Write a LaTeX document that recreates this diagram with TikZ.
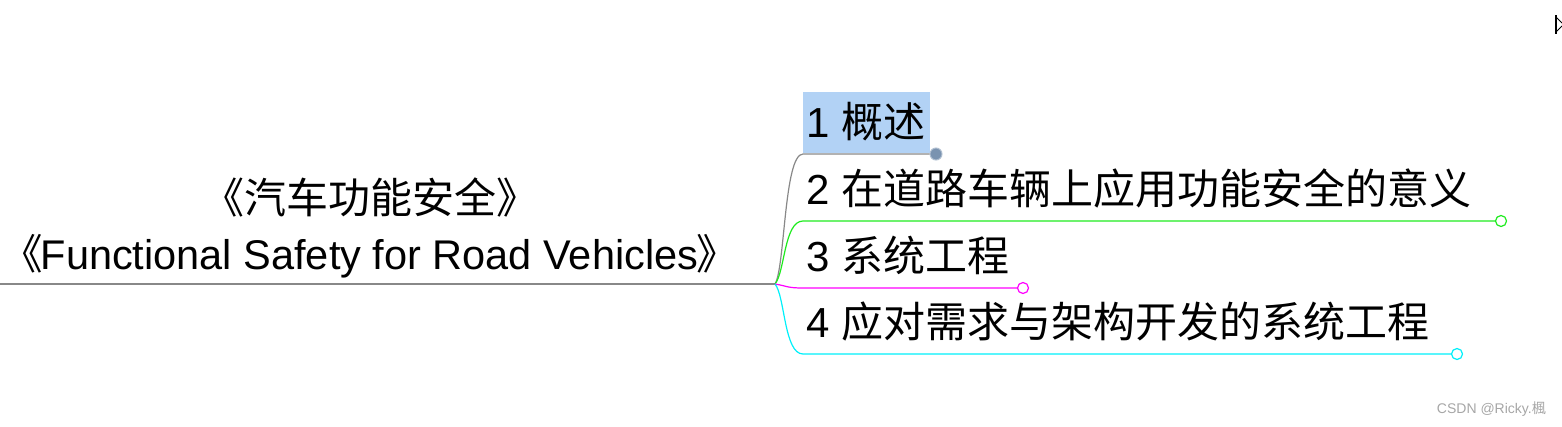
\documentclass[tikz,border=0pt]{standalone}
\usepackage{fontspec}
\setmainfont{Liberation Sans}
\newfontfamily\cjk{Noto Sans CJK SC}
\definecolor{hl}{RGB}{178,210,245}
\definecolor{dotc}{RGB}{122,147,176}
\definecolor{lgreen}{RGB}{30,235,30}
\definecolor{lmag}{RGB}{255,0,255}
\definecolor{lcyan}{RGB}{0,240,250}
\definecolor{lgray}{RGB}{136,136,136}
\begin{document}
\begin{tikzpicture}[x=1pt,y=-1pt,
  big/.style={inner sep=0pt, font=\fontsize{42}{46}\selectfont},
  topic/.style={big, anchor=west},
  br/.style={line width=1.2pt},
  endc/.style={circle, draw, line width=1.2pt, fill=white, minimum size=11pt, inner sep=0pt}]
\useasboundingbox (0,0) rectangle (1562,426);
% highlight box
\fill[hl] (803,92) rectangle (930,153);
% root text
\node[big] (t1) at (370,197) {{\cjk 《汽车功能安全》}};
\node[inner sep=0pt, anchor=west, font=\fontsize{41.5}{46}\selectfont] (t2) at (1,256) {{\cjk 《}\kern-2pt Functional Safety for Road Vehicles\kern-2pt{\cjk 》}};
\coordinate (r0) at (0,284);
\coordinate (j) at (775,284);
\draw[lgray, line width=1.2pt] (r0) -- (j);
% topics
\node[topic] (n1) at (806,122) {1 {\cjk 概述}};
\node[topic] (n2) at (806,188) {2 {\cjk 在道路车辆上应用功能安全的意义}};
\node[topic] (n3) at (806,255) {3 {\cjk 系统工程}};
\node[topic] (n4) at (806,322) {4 {\cjk 应对需求与架构开发的系统工程}};
% branch ends
\coordinate (s1) at (803,154);
\coordinate (s2) at (803,221);
\coordinate (s3) at (803,288);
\coordinate (s4) at (803,354);
\node[circle, fill=dotc, draw=dotc!60!white, line width=1pt, minimum size=12pt, inner sep=0pt] (e1) at (936,154) {};
\node[endc, draw=lgreen] (e2) at (1501,221) {};
\node[endc, draw=lmag] (e3) at (1023,288) {};
\node[endc, draw=lcyan] (e4) at (1457,354) {};
\draw[br, lgray] (j) .. controls (785,268) and (784,154) .. (s1) -- (e1.west);
\draw[br, lgreen] (j) .. controls (785,272) and (784,221) .. (s2) -- (e2.west);
\draw[br, lmag] (j) .. controls (787,286) and (787,288) .. (s3) -- (e3.west);
\draw[br, lcyan] (j) .. controls (785,296) and (784,354) .. (s4) -- (e4.west);
% top-right icon
\draw[line width=1.5pt] (1556,15) -- (1556,34);
\draw[line width=0.8pt] (1556,17) -- (1562,23);
\draw[line width=0.8pt] (1556,32) -- (1562,26);
% watermark
\node[inner sep=0pt, anchor=east, text=gray!70, font=\fontsize{14}{16}\selectfont] (wm) at (1546,409) {CSDN @Ricky.{\cjk 楓}};
\end{tikzpicture}
\end{document}
